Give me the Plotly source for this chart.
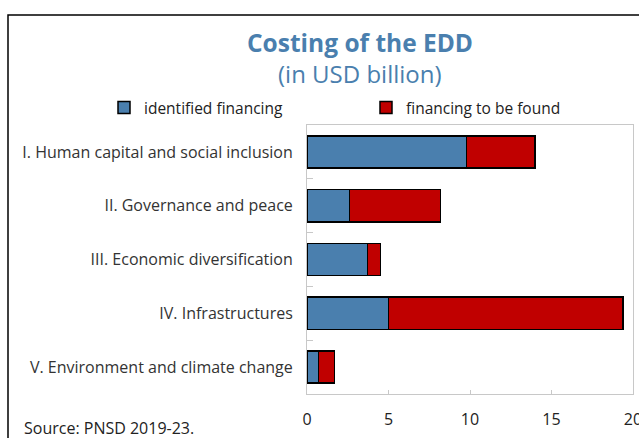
import plotly.graph_objects as go

# Costing of the EDD by pillar, USD billion
pillars = [
    "I. Human capital and social inclusion",
    "II. Governance and peace",
    "III. Economic diversification",
    "IV. Infrastructures",
    "V. Environment and climate change",
]
identified = [9.8, 2.6, 3.7, 5.0, 0.7]
to_be_found = [4.2, 5.6, 0.8, 14.4, 1.0]
x_ticks = [0, 5, 10, 15, 20]

BLUE = "#4A7FAE"
RED = "#C00000"
W, H = 639, 438
ML, MR, MT, MB = 307, 6, 125, 44
PW, PH = W - ML - MR, H - MT - MB


def px_x(p):
    return (p - ML) / PW


def px_y(p):
    return (H - MB - p) / PH


FONT = "Open Sans"

fig = go.Figure()
fig.add_trace(go.Bar(
    y=pillars, x=identified, orientation="h", name="identified financing",
    marker=dict(color=BLUE, line=dict(color="black", width=1.5)),
    legend="legend",
))
fig.add_trace(go.Bar(
    y=pillars, x=to_be_found, orientation="h", name="financing to be found",
    marker=dict(color=RED, line=dict(color="black", width=1.5)),
    legend="legend2",
))

legend_common = dict(
    orientation="h", yanchor="middle", y=px_y(108), xanchor="left",
    font=dict(family=FONT, size=15.5, color="#222222"),
    bgcolor="rgba(0,0,0,0)", itemwidth=30,
)

fig.update_layout(
    width=W, height=H,
    margin=dict(l=ML, r=MR, t=MT, b=MB, autoexpand=False),
    barmode="stack", bargap=0.4,
    plot_bgcolor="white", paper_bgcolor="white",
    font=dict(family=FONT, size=16, color="#333333"),
    showlegend=True,
    legend=dict(x=px_x(104), **legend_common),
    legend2=dict(x=px_x(366), **legend_common),
    xaxis=dict(
        range=[0, 20], tickvals=x_ticks, showgrid=False, zeroline=False,
        showline=True, linecolor="#C8C8C8", linewidth=1, mirror=True,
        ticks="inside", ticklen=4, tickcolor="#C8C8C8",
        ticklabeloverflow="allow", ticklabelstandoff=11, automargin=False,
        tickfont=dict(family=FONT, size=16, color="#222222"),
        fixedrange=True,
    ),
    yaxis=dict(
        autorange="reversed", showgrid=False,
        showline=True, linecolor="#C8C8C8", linewidth=1, mirror=True,
        ticks="inside", tickson="boundaries", ticklen=6, tickcolor="#C8C8C8",
        ticklabelstandoff=10, automargin=False,
        tickfont=dict(family=FONT, size=16, color="#333333"),
        fixedrange=True,
    ),
    annotations=[
        dict(text="<b>Costing of the EDD</b>", xref="paper", yref="paper",
             x=px_x(360), y=px_y(43), xanchor="center", yanchor="middle",
             showarrow=False, font=dict(family=FONT, size=24.5, color=BLUE)),
        dict(text="(in USD billion)", xref="paper", yref="paper",
             x=px_x(360), y=px_y(73), xanchor="center", yanchor="middle",
             showarrow=False, font=dict(family=FONT, size=24, color=BLUE)),
        dict(text="Source: PNSD 2019-23.", xref="paper", yref="paper",
             x=px_x(22), y=px_y(428), xanchor="left", yanchor="middle",
             showarrow=False, font=dict(family=FONT, size=16, color="#222222")),
    ],
    shapes=[
        dict(type="rect", xref="paper", yref="paper",
             x0=px_x(8), y0=px_y(460), x1=px_x(660), y1=px_y(15),
             line=dict(color="black", width=1.5), fillcolor="rgba(0,0,0,0)",
             layer="below"),
    ],
)

fig.write_html("out.html")
